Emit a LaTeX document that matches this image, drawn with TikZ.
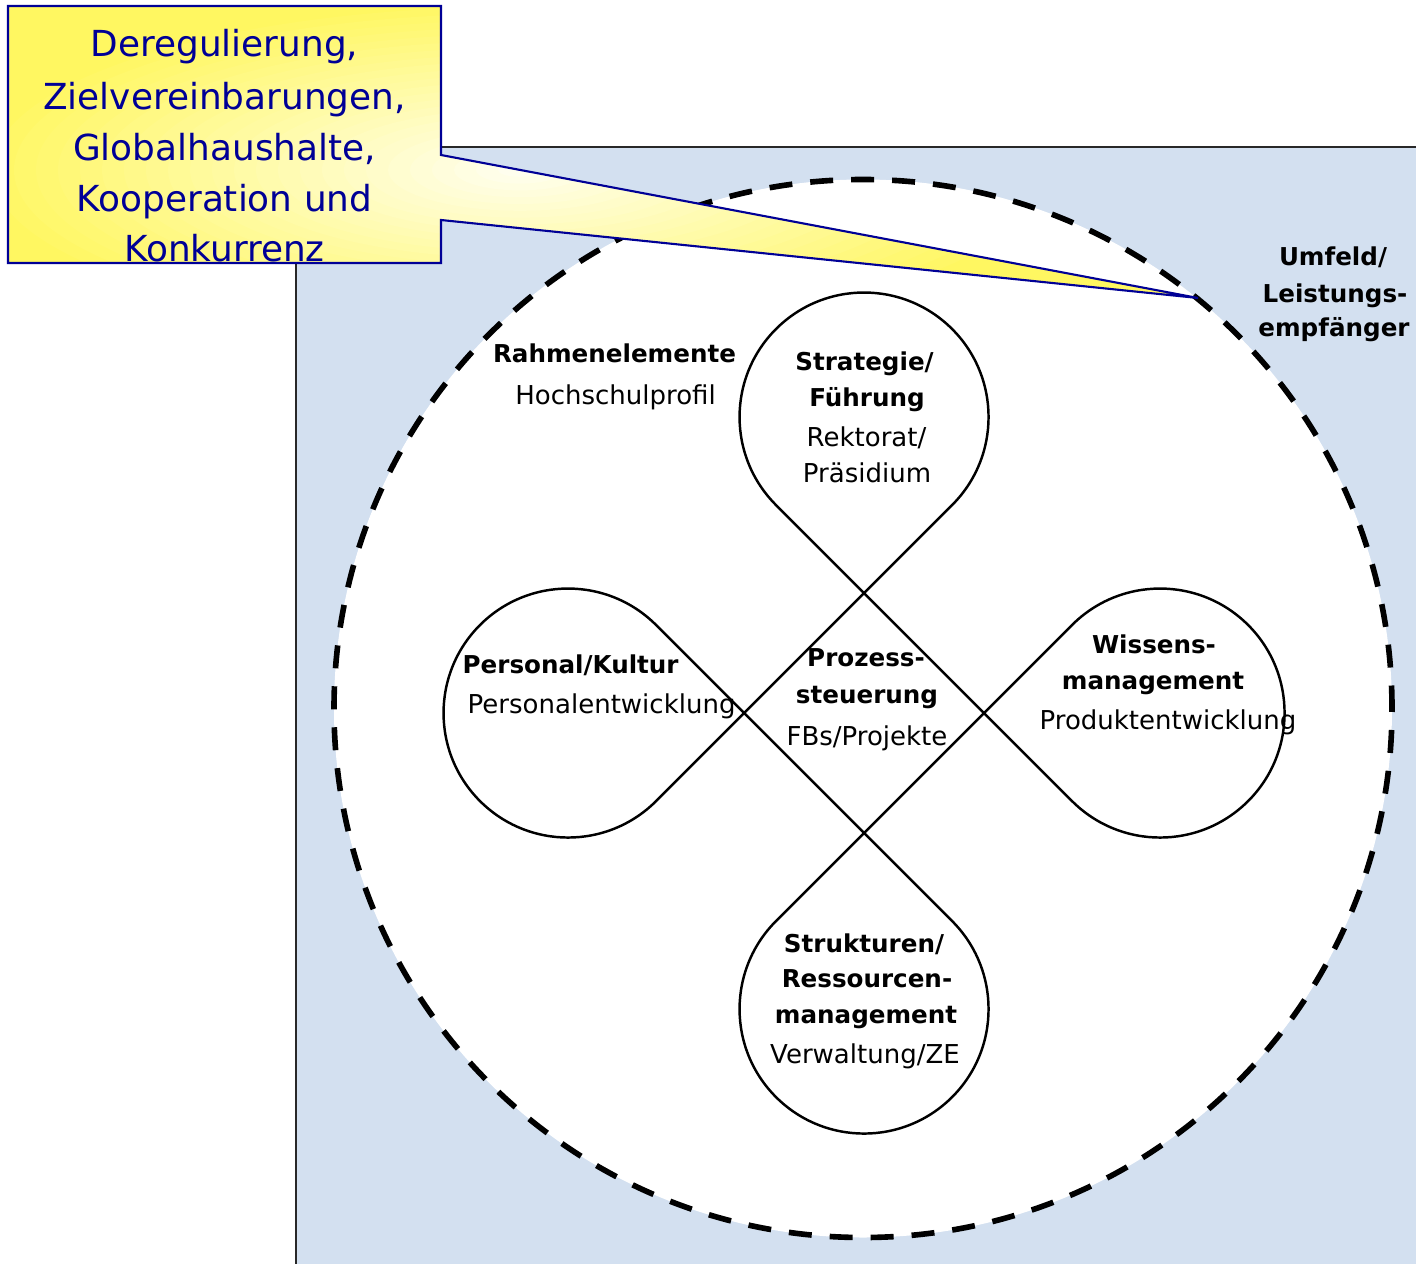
\documentclass[tikz,border=0pt]{standalone}
\usepackage{fontspec}
\setmainfont{DejaVu Sans}
\usetikzlibrary{calc}

\definecolor{umfeld}{RGB}{211,224,240}
\definecolor{callblue}{RGB}{0,0,150}
\definecolor{framegray}{RGB}{40,40,40}

\begin{document}
\begin{tikzpicture}[scale=0.1,
  head/.style={font=\fontsize{7}{8.4}\selectfont\bfseries, anchor=base},
  sub/.style={font=\fontsize{7.4}{8.9}\selectfont, anchor=base},
  call/.style={font=\fontsize{10.2}{14.5}\selectfont, text=callblue, anchor=base},
  petal/.style={line width=0.7pt, line join=round},
  ring/.style={line width=1.6pt, dash pattern=on 2.3mm off 1.8mm, fill=white},
  callout/.style={draw=callblue, line width=0.6pt}]
\tikzstyle{every node}+=[inner sep=0pt]
\useasboundingbox (0,0) rectangle (141.6,-126.4);
% Umfeld
\fill [umfeld] (29.6,-14.7) rectangle (141.6,-126.4);
\draw [framegray, line width=0.6pt] (141.6,-14.7) -- (29.6,-14.7) -- (29.6,-126.4);
\draw [ring] (86.3,-70.85) circle (52.9);
% Kleeblatt
\coordinate (ptop) at (86.4,-41.7);
\coordinate (pright) at (116.0,-71.3);
\coordinate (pbottom) at (86.4,-100.9);
\coordinate (pleft) at (56.8,-71.3);
\draw [petal] ($(ptop)+(-45:12.45)$) arc [start angle=-45, end angle=225, radius=12.45]
  -- ($(pright)+(225:12.45)$) arc [start angle=-135, end angle=135, radius=12.45]
  -- ($(pbottom)+(135:12.45)$) arc [start angle=135, end angle=405, radius=12.45]
  -- ($(pleft)+(45:12.45)$) arc [start angle=45, end angle=315, radius=12.45]
  -- cycle;
% Texte
\node [head] (rahmen) at (61.45,-36.2) {Rahmenelemente};
\node [sub] (profil) at (61.55,-40.4) {Hochschulprofil};
\node [head] (strat) at (86.45,-37.0) {Strategie/};
\node [head] (fuehr) at (86.7,-40.6) {Führung};
\node [sub] (rekt) at (86.65,-44.6) {Rektorat/};
\node [sub] (praes) at (86.7,-48.2) {Präsidium};
\node [head, anchor=base west] (pers) at (46.2,-67.3) {Personal/Kultur};
\node [sub, anchor=base west] (persent) at (46.7,-71.3) {Personalentwicklung};
\node [head] (proz) at (86.6,-66.6) {Prozess-};
\node [head] (steu) at (86.7,-70.3) {steuerung};
\node [sub] (fbs) at (86.7,-74.5) {FBs/Projekte};
\node [head] (wiss) at (115.4,-65.3) {Wissens-};
\node [head] (wmgmt) at (115.3,-68.9) {management};
\node [sub] (prod) at (116.8,-72.9) {Produktentwicklung};
\node [head] (strukt) at (86.4,-95.2) {Strukturen/};
\node [head] (ress) at (86.7,-98.7) {Ressourcen-};
\node [head] (smgmt) at (86.6,-102.3) {management};
\node [sub] (verw) at (86.5,-106.3) {Verwaltung/ZE};
\node [head] (umf) at (133.3,-26.5) {Umfeld/};
\node [head] (leist) at (133.5,-30.2) {Leistungs-};
\node [head] (empf) at (133.4,-33.6) {empfänger};
% Legende
\begin{scope}
\clip (0.8,-0.6) -- (44.1,-0.6) -- (44.1,-15.5) -- (119.8,-29.8) -- (44.1,-22.0)
  -- (44.1,-26.3) -- (0.8,-26.3) -- cycle;
\fill [yellow!62] (0,0) rectangle (120,-30);
\foreach \k [evaluate=\k as \yl using 62-2.3*\k, evaluate=\k as \f using 1-\k/25] in {0,...,24}
  \fill [yellow!\yl] (52,-17) ellipse [x radius=55*\f, y radius=17*\f];
\end{scope}
\begin{scope}
\clip (0.9,-0.7) rectangle (44.0,-26.2);
\node [call] (dereg) at (22.45,-5.7) {Deregulierung,};
\node [call] (ziel) at (22.45,-11.0) {Zielvereinbarungen,};
\node [call] (global) at (22.45,-16.1) {Globalhaushalte,};
\node [call] (koop) at (22.45,-21.2) {Kooperation und};
\node [call] (konk) at (22.45,-26.2) {Konkurrenz};
\end{scope}
\draw [callout] (0.8,-0.6) -- (44.1,-0.6) -- (44.1,-15.5) -- (119.8,-29.8) -- (44.1,-22.0)
  -- (44.1,-26.3) -- (0.8,-26.3) -- cycle;
\end{tikzpicture}
\end{document}
